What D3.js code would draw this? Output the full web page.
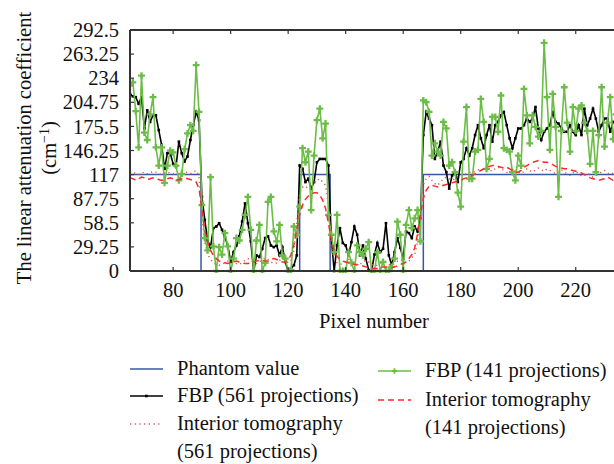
<!DOCTYPE html>
<html>
<head>
<meta charset="utf-8">
<script src="https://cdn.jsdelivr.net/npm/d3@7"></script>
<style>
  body { margin: 0; background: #fff; }
  text { font-family: "Liberation Serif", "Times New Roman", serif; fill: #111; }
</style>
</head>
<body>
<div id="chart"></div>
<script>
const startPixel = 65;
const yTicks = [0, 29.25, 58.5, 87.75, 117, 146.25, 175.5, 204.75, 234, 263.25, 292.5];
const xTicks = [80, 100, 120, 140, 160, 180, 200, 220];

const phantomX = [65, 89.7, 89.7, 124, 124, 134.6, 134.6, 167, 167, 236];
const phantomY = [117, 117, 0, 0, 117, 117, 0, 0, 117, 117];

// one value per pixel, 65..234
const fbp561 = [
  215, 212, 211, 203, 211, 173, 195, 181, 189, 189, 171, 153, 124, 143, 143, 130, 127, 157, 143, 133,
  139, 159, 177, 193, 183, 90, 62, 37, 29, 52, 54, 58, 50, 41, 31, 11, 23, 31, 42, 60,
  82, 58, 36, 0, 19, 17, 27, 40, 42, 31, 29, 31, 19, 29, 11, 0, 3, 7, 19, 128,
  124, 108, 112, 100, 108, 132, 136, 136, 136, 128, 40, 0, 31, 52, 34, 31, 19, 35, 54, 44,
  19, 31, 15, 1, 0, 20, 34, 23, 27, 58, 19, 7, 23, 40, 28, 15, 48, 46, 40, 54,
  48, 64, 165, 193, 185, 177, 136, 145, 157, 128, 120, 100, 116, 120, 108, 132, 136, 149, 140, 149,
  165, 177, 161, 149, 165, 177, 157, 177, 181, 189, 193, 177, 161, 149, 161, 173, 173, 177, 185, 181,
  185, 199, 173, 159, 169, 173, 177, 193, 181, 179, 173, 169, 169, 177, 169, 165, 177, 165, 197, 177,
  185, 197, 185, 169, 177, 185, 185, 169, 181, 181
];
const fbp141 = [
  225, 229, 194, 150, 237, 168, 159, 190, 211, 150, 128, 150, 107, 128, 146, 144, 128, 110, 118, 148,
  167, 177, 170, 250, 193, 80, 40, 25, 114, 30, 0, 29, 20, 46, 30, 0, 15, 40, 37, 50,
  68, 90, 50, 0, 37, 56, 0, 10, 84, 90, 48, 36, 56, 19, 15, 0, 1, 54, 44, 78,
  149, 132, 145, 74, 140, 183, 197, 161, 179, 68, 44, 23, 68, 0, 0, 0, 23, 10, 0, 31,
  23, 19, 27, 35, 0, 0, 23, 0, 11, 0, 0, 5, 15, 60, 44, 0, 56, 74, 52, 64,
  74, 36, 207, 205, 193, 140, 155, 145, 140, 181, 173, 128, 132, 120, 95, 78, 157, 199, 112, 112,
  145, 147, 209, 181, 124, 136, 187, 187, 169, 213, 149, 147, 145, 120, 110, 140, 128, 221, 189, 155,
  189, 175, 163, 170, 277, 211, 147, 215, 175, 90, 170, 223, 180, 145, 199, 170, 197, 201, 180, 170,
  130, 170, 120, 165, 223, 151, 180, 211, 160, 190
];
const interior561 = [
  120, 121, 118, 117, 119, 120, 118, 119, 121, 120, 118, 117, 119, 120, 119, 118, 117, 118, 120, 121,
  119, 118, 120, 122, 115, 65, 35, 20, 14, 10, 8, 7, 8, 10, 12, 13, 11, 9, 8, 10,
  13, 15, 13, 10, 9, 11, 14, 16, 14, 11, 9, 10, 13, 15, 13, 10, 12, 25, 60, 95,
  102, 100, 104, 106, 108, 110, 112, 108, 104, 80, 30, 14, 10, 8, 9, 12, 14, 12, 9, 7,
  8, 11, 13, 11, 8, 6, 7, 9, 11, 10, 8, 7, 9, 12, 14, 12, 10, 12, 16, 20,
  35, 75, 105, 112, 115, 110, 106, 104, 108, 112, 114, 112, 110, 112, 115, 117, 116, 118, 120, 119,
  121, 123, 122, 124, 125, 123, 121, 124, 126, 124, 122, 120, 118, 120, 122, 120, 118, 121, 124, 122,
  120, 123, 125, 123, 121, 124, 122, 120, 118, 121, 123, 120, 118, 116, 119, 121, 118, 115, 117, 119,
  116, 114, 116, 118, 120, 122, 119, 117, 119, 121
];
const interior141 = [
  113, 112, 110, 112, 114, 113, 111, 112, 113, 112, 111, 110, 111, 112, 113, 112, 110, 111, 112, 113,
  112, 111, 110, 108, 100, 75, 50, 35, 25, 19, 15, 12, 11, 10, 9, 10, 11, 12, 11, 10,
  9, 9, 10, 11, 12, 13, 13, 12, 12, 14, 15, 14, 12, 11, 11, 13, 20, 32, 50, 68,
  80, 87, 91, 93, 95, 95, 92, 86, 76, 58, 38, 25, 18, 14, 12, 11, 10, 9, 8, 8,
  7, 6, 5, 4, 3, 3, 3, 4, 5, 5, 4, 4, 5, 6, 8, 9, 11, 15, 20, 28,
  45, 68, 88, 98, 103, 104, 103, 102, 103, 104, 105, 106, 107, 108, 109, 110, 112, 113, 114, 116,
  118, 120, 122, 124, 126, 127, 128, 128, 127, 126, 125, 126, 124, 122, 120, 120, 122, 126, 128, 130,
  132, 133, 134, 133, 132, 132, 131, 129, 127, 126, 125, 124, 124, 123, 122, 121, 120, 119, 117, 115,
  113, 112, 111, 110, 111, 112, 114, 112, 110, 110
];

const width = 614;
const height = 464;
const margin = { left: 130, top: 30, right: -2, bottom: 193 };
const fontSize = 20.5;

const svg = d3.select('#chart')
  .append('svg')
    .attr('width', width)
    .attr('height', height)
    .attr('viewBox', [0, 0, width, height]);

const x = d3.scaleLinear()
  .domain([65, 234])
  .range([margin.left, width - margin.right]);

const y = d3.scaleLinear()
  .domain([0, 292.5])
  .range([height - margin.bottom, margin.top]);

svg.append('clipPath')
    .attr('id', 'plot-clip')
  .append('rect')
    .attr('x', margin.left)
    .attr('y', margin.top - 2)
    .attr('width', width - margin.left)
    .attr('height', y(0) - margin.top + 4);

const toPoints = values => values.map((v, i) => ({ x: startPixel + i, y: v }));
const line = d3.line().x(d => x(d.x)).y(d => y(d.y));

const plot = svg.append('g').attr('clip-path', 'url(#plot-clip)');

const phantomPoints = phantomX.map((v, i) => ({ x: v, y: phantomY[i] }));
plot.append('path')
    .attr('d', line(phantomPoints))
    .attr('fill', 'none')
    .attr('stroke', '#3a56a8')
    .attr('stroke-width', 1.5);

plot.append('path')
    .attr('d', line(toPoints(fbp561)))
    .attr('fill', 'none')
    .attr('stroke', '#000')
    .attr('stroke-width', 1.6);

plot.selectAll('.black-marker')
  .data(toPoints(fbp561))
  .join('rect')
    .attr('class', 'black-marker')
    .attr('x', d => x(d.x) - 1.3)
    .attr('y', d => y(d.y) - 1.3)
    .attr('width', 2.6)
    .attr('height', 2.6)
    .attr('fill', '#000');

plot.append('path')
    .attr('d', line(toPoints(interior561)))
    .attr('fill', 'none')
    .attr('stroke', '#d4554a')
    .attr('stroke-width', 1.4)
    .attr('stroke-dasharray', '1.2,3.5');

plot.append('path')
    .attr('d', line(toPoints(fbp141)))
    .attr('fill', 'none')
    .attr('stroke', '#6cbd48')
    .attr('stroke-width', 1.6);

const cross = d3.symbol().type(d3.symbolCross).size(26);
plot.selectAll('.green-marker')
  .data(toPoints(fbp141))
  .join('path')
    .attr('class', 'green-marker')
    .attr('d', cross)
    .attr('transform', d => `translate(${x(d.x)},${y(d.y)})`)
    .attr('fill', '#6cbd48');

plot.append('path')
    .attr('d', line(toPoints(interior141)))
    .attr('fill', 'none')
    .attr('stroke', '#ff2a2a')
    .attr('stroke-width', 1.5)
    .attr('stroke-dasharray', '6,4');

// frame and ticks
const axisColor = '#333';
svg.append('line')
    .attr('x1', margin.left).attr('x2', width)
    .attr('y1', y(0)).attr('y2', y(0))
    .attr('stroke', axisColor).attr('stroke-width', 2);
svg.append('line')
    .attr('x1', margin.left).attr('x2', width)
    .attr('y1', margin.top).attr('y2', margin.top)
    .attr('stroke', axisColor).attr('stroke-width', 2);
svg.append('line')
    .attr('x1', margin.left).attr('x2', margin.left)
    .attr('y1', margin.top).attr('y2', y(0))
    .attr('stroke', axisColor).attr('stroke-width', 2);

svg.selectAll('.ytick')
  .data(yTicks)
  .join('line')
    .attr('class', 'ytick')
    .attr('x1', margin.left).attr('x2', margin.left + 4)
    .attr('y1', d => y(d)).attr('y2', d => y(d))
    .attr('stroke', axisColor).attr('stroke-width', 1.2);

svg.selectAll('.ylabel')
  .data(yTicks)
  .join('text')
    .attr('class', 'ylabel')
    .attr('x', 119)
    .attr('y', d => y(d))
    .attr('dy', '0.35em')
    .attr('text-anchor', 'end')
    .attr('font-size', fontSize)
    .text(d => d);

svg.selectAll('.xtick')
  .data(xTicks)
  .join('g')
    .attr('class', 'xtick')
    .each(function(d) {
      const g = d3.select(this);
      g.append('line')
        .attr('x1', x(d)).attr('x2', x(d))
        .attr('y1', y(0)).attr('y2', y(0) - 4)
        .attr('stroke', axisColor).attr('stroke-width', 1.2);
      g.append('line')
        .attr('x1', x(d)).attr('x2', x(d))
        .attr('y1', margin.top).attr('y2', margin.top + 4)
        .attr('stroke', axisColor).attr('stroke-width', 1.2);
    });

svg.selectAll('.xlabel')
  .data(xTicks)
  .join('text')
    .attr('class', 'xlabel')
    .attr('x', d => x(d))
    .attr('y', 297)
    .attr('text-anchor', 'middle')
    .attr('font-size', fontSize)
    .text(d => d);

svg.append('text')
    .attr('x', 374)
    .attr('y', 328)
    .attr('text-anchor', 'middle')
    .attr('font-size', fontSize)
    .text('Pixel number');

const yTitle = svg.append('text')
    .attr('transform', 'translate(0,148) rotate(-90)')
    .attr('text-anchor', 'middle')
    .attr('font-size', fontSize);
yTitle.append('tspan')
    .attr('x', 0)
    .attr('y', 31)
    .text('The linear attenuation coefficient');
const unit = yTitle.append('tspan')
    .attr('x', 0)
    .attr('y', 56)
    .text('(cm');
unit.append('tspan').attr('dy', -7).attr('font-size', 14).text('−1');
yTitle.append('tspan').attr('dy', 7).text(')');

// legend
const legendItems = [
  { label: ['Phantom value'], x: 130, y: 369, color: '#3a56a8', dash: null, marker: null },
  { label: ['FBP (561 projections)'], x: 130, y: 396, color: '#000', dash: null, marker: 'square' },
  { label: ['Interior tomography', '(561 projections)'], x: 130, y: 424, color: '#d4554a', dash: '1.2,3.5', marker: null },
  { label: ['FBP (141 projections)'], x: 378, y: 371, color: '#6cbd48', dash: null, marker: 'cross' },
  { label: ['Interior tomography', '(141 projections)'], x: 378, y: 400, color: '#ff2a2a', dash: '6,4', marker: null }
];

const legend = svg.selectAll('.legend-item')
  .data(legendItems)
  .join('g')
    .attr('class', 'legend-item')
    .attr('transform', d => `translate(${d.x},${d.y})`);

legend.append('line')
    .attr('x1', 0).attr('x2', 33)
    .attr('stroke', d => d.color)
    .attr('stroke-width', 1.5)
    .attr('stroke-dasharray', d => d.dash);

legend.filter(d => d.marker === 'square')
  .append('rect')
    .attr('x', 15).attr('y', -1.3).attr('width', 2.6).attr('height', 2.6)
    .attr('fill', '#000');

legend.filter(d => d.marker === 'cross')
  .append('path')
    .attr('d', d3.symbol().type(d3.symbolCross).size(16))
    .attr('transform', 'translate(16.5,0)')
    .attr('fill', '#6cbd48');

legend.each(function(d) {
  d3.select(this).selectAll('.legend-text')
    .data(d.label)
    .join('text')
      .attr('class', 'legend-text')
      .attr('x', 47)
      .attr('y', (t, i) => i * 28)
      .attr('dy', '0.3em')
      .attr('font-size', fontSize)
      .text(t => t);
});
</script>
</body>
</html>
